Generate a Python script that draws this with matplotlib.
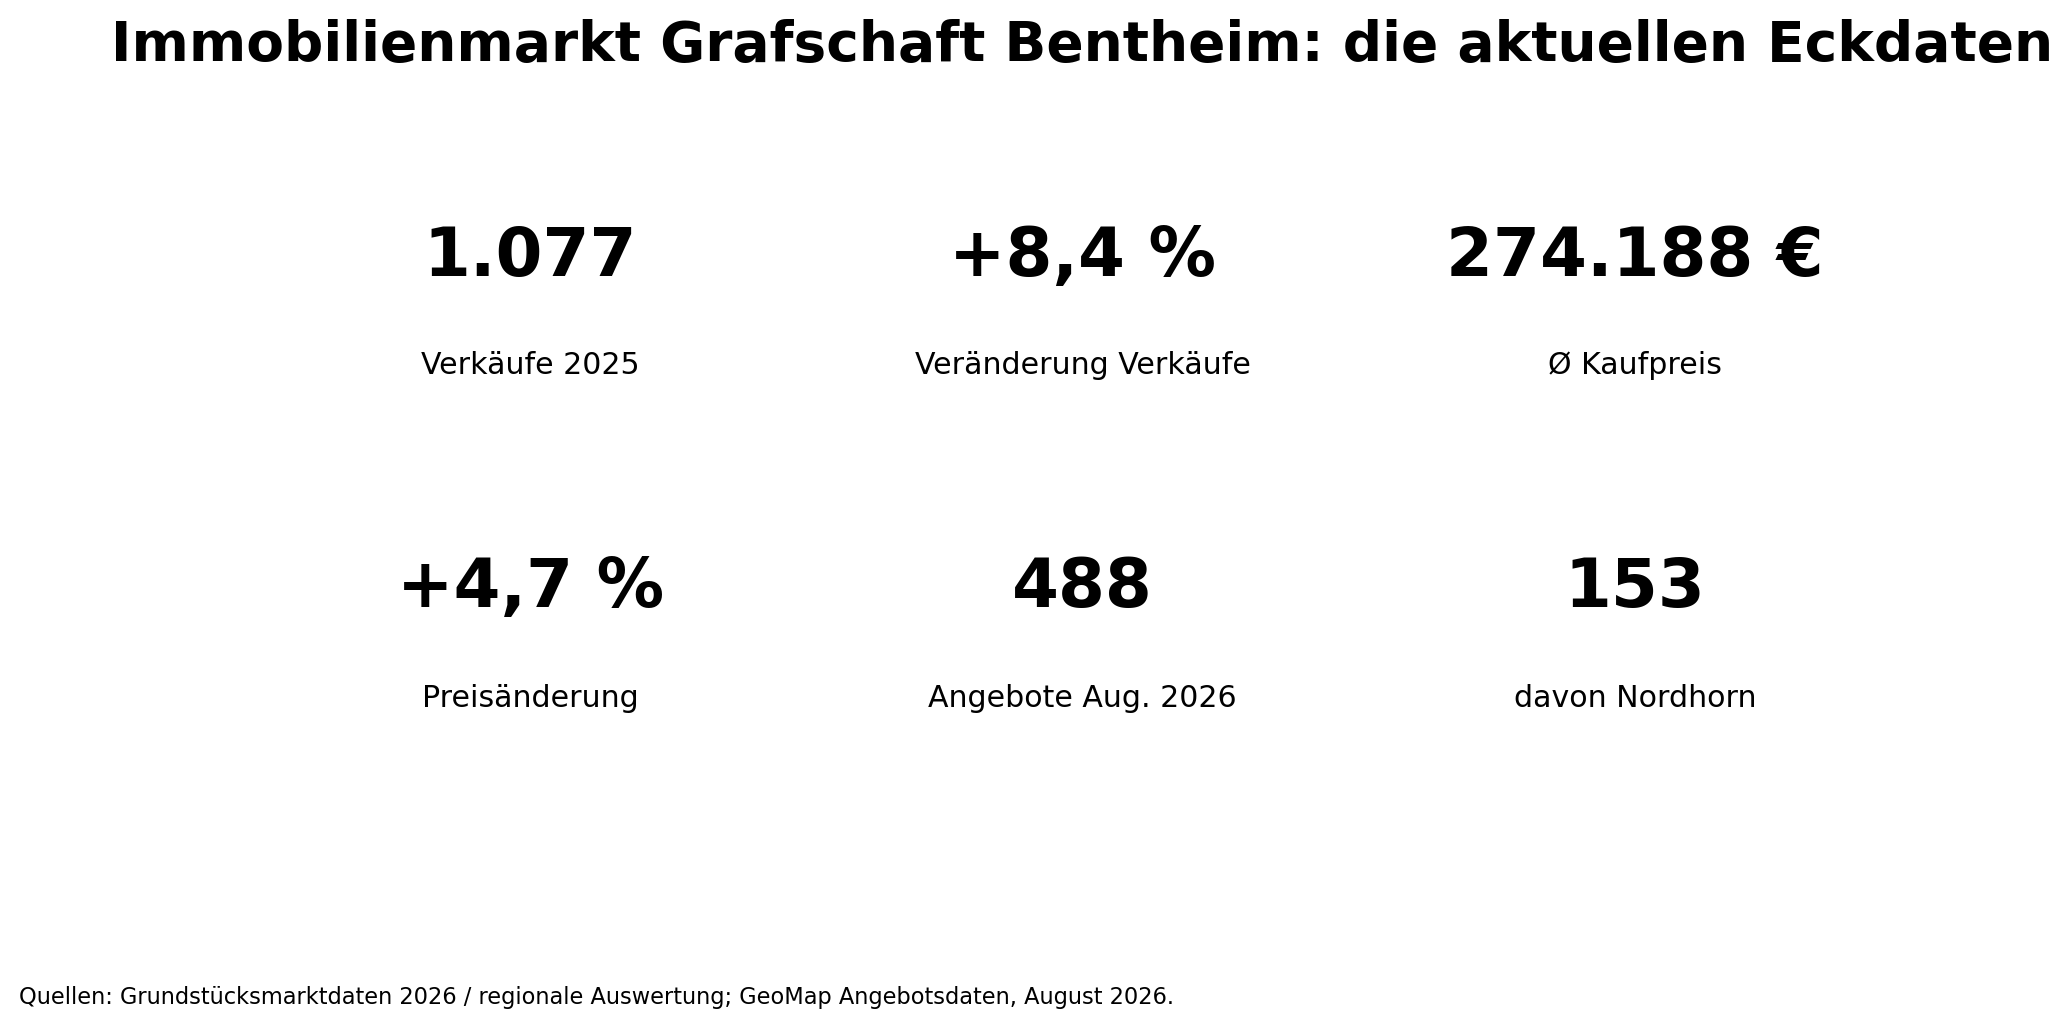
import matplotlib
matplotlib.use("Agg")
import matplotlib.pyplot as plt

title = "Immobilienmarkt Grafschaft Bentheim: die aktuellen Eckdaten"
values = ["1.077", "+8,4 %", "274.188 €", "+4,7 %", "488", "153"]
labels = ["Verkäufe 2025", "Veränderung Verkäufe", "Ø Kaufpreis",
          "Preisänderung", "Angebote Aug. 2026", "davon Nordhorn"]
source = "Quellen: Grundstücksmarktdaten 2026 / regionale Auswertung; GeoMap Angebotsdaten, August 2026."

fig = plt.figure(figsize=(13.8, 6.84), dpi=150)
ax = fig.add_axes([0.1227, 0, 0.8005, 1])
ax.set_xlim(0, 3)
ax.set_ylim(0, 1)
ax.axis("off")

# rows: baseline of big number, baseline of label (figure fraction)
rows = [(0.731, 0.6355), (0.4084, 0.311)]

for i, (val, lab) in enumerate(zip(values, labels)):
    r, c = divmod(i, 3)
    y_val, y_lab = rows[r]
    ax.text(c + 0.5, y_val, val, ha="center", va="baseline",
            fontsize=32.4, fontweight="bold")
    ax.text(c + 0.5, y_lab, lab, ha="center", va="baseline", fontsize=14.4)

ax.text(1.5, 0.941, title, ha="center", va="baseline",
        fontsize=26.4, fontweight="bold")
fig.text(0.0092, 0.0214, source, ha="left", va="baseline", fontsize=10.8)

fig.savefig("out.png", dpi=150)
